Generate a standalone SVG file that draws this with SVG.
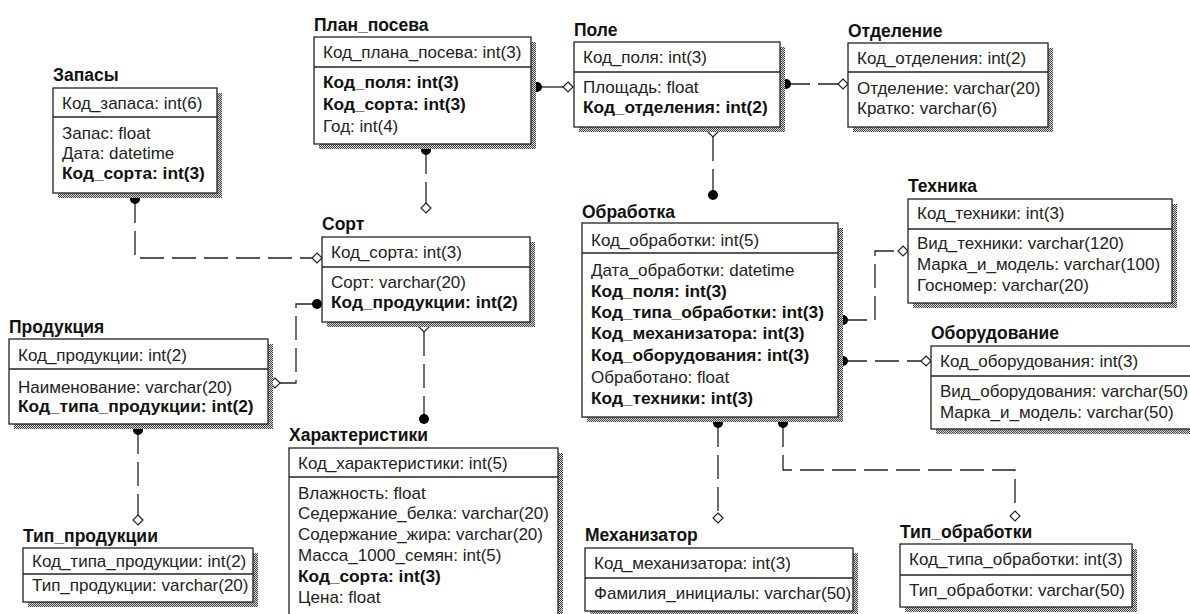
<svg xmlns="http://www.w3.org/2000/svg" xmlns:xlink="http://www.w3.org/1999/xlink" width="1190" height="614" viewBox="0 0 1190 614">
<defs>
<pattern id="chk" width="2" height="2" patternUnits="userSpaceOnUse"><rect width="2" height="2" fill="#d8d8d8"/><rect width="1" height="1" fill="#444"/><rect x="1" y="1" width="1" height="1" fill="#444"/></pattern>
<path id="dm" d="M0,-5 L5,0 L0,5 L-5,0Z" class="dia"/>
<circle id="dt" r="5" class="dot"/>
</defs>
<style>
.bx{fill:#fff;stroke:#222;stroke-width:1.3}
.sh{fill:url(#chk)}
.dv{stroke:#222;stroke-width:1.3}
text{font-family:"Liberation Sans",Arial,sans-serif;font-size:17px;fill:#222}
.b{font-weight:bold;fill:#111;font-size:17.3px}
.ti{font-weight:bold;font-size:17.5px;fill:#111}
.ln{stroke:#222;fill:none;stroke-width:1.3;stroke-dasharray:24 8}
.sl{stroke:#222;fill:none;stroke-width:1.3}
.dot{fill:#000}
.dia{fill:#fff;stroke:#222;stroke-width:1.2}
</style>
<rect width="1190" height="614" fill="#fff"/>

<g id="connectors">
<path class="ln" d="M135,199 V258 H312"/>
<path class="sl" d="M537,87 H563"/>
<path class="ln" d="M426,150 V203"/>
<path class="ln" d="M786,84 H838"/>
<path class="ln" d="M713,137 V195"/>
<path class="ln" d="M316,304 H296 V383 H280"/>
<path class="ln" d="M424,332 V419"/>
<path class="ln" d="M138,430 V515"/>
<path class="ln" d="M843,320 H875 V251 H898"/>
<path class="ln" d="M843,361 H921"/>
<path class="ln" d="M718,423 V513"/>
<path class="ln" d="M783,423 V470 H1015 V511"/>
<use href="#dt" x="135" y="199"/><use href="#dm" x="317" y="258"/>
<use href="#dt" x="537" y="87"/><use href="#dm" x="568" y="87"/>
<use href="#dt" x="426" y="150"/><use href="#dm" x="426" y="208"/>
<use href="#dt" x="786" y="84"/><use href="#dm" x="843" y="84"/>
<use href="#dm" x="713" y="132"/><use href="#dt" x="713" y="195"/>
<use href="#dt" x="317" y="304"/><use href="#dm" x="275" y="383"/>
<use href="#dm" x="424" y="327"/><use href="#dt" x="424" y="419"/>
<use href="#dt" x="138" y="430"/><use href="#dm" x="138" y="520"/>
<use href="#dt" x="843" y="320"/><use href="#dm" x="903" y="251"/>
<use href="#dt" x="843" y="361"/><use href="#dm" x="926" y="361"/>
<use href="#dt" x="718" y="423"/><use href="#dm" x="718" y="518"/>
<use href="#dt" x="783" y="423"/><use href="#dm" x="1015" y="516"/>
</g>

<g id="zapasy">
<text class="ti" x="53" y="81">Запасы</text>
<rect class="sh" x="58" y="93" width="164" height="105"/>
<rect class="bx" x="53" y="88" width="164" height="105"/>
<line class="dv" x1="53" y1="117" x2="217" y2="117"/>
<text x="62" y="109">Код_запаса: int(6)</text>
<text x="62" y="139">Запас: float</text>
<text x="62" y="159">Дата: datetime</text>
<text class="b" x="62" y="179">Код_сорта: int(3)</text>
</g>

<g id="plan_poseva">
<text class="ti" x="314" y="31">План_посева</text>
<rect class="sh" x="319" y="42" width="217" height="107"/>
<rect class="bx" x="314" y="37" width="217" height="107"/>
<line class="dv" x1="314" y1="67" x2="531" y2="67"/>
<text x="323" y="58">Код_плана_посева: int(3)</text>
<text class="b" x="323" y="88">Код_поля: int(3)</text>
<text class="b" x="323" y="110">Код_сорта: int(3)</text>
<text x="323" y="132">Год: int(4)</text>
</g>

<g id="pole">
<text class="ti" x="574" y="36">Поле</text>
<rect class="sh" x="579" y="47" width="206" height="85"/>
<rect class="bx" x="574" y="42" width="206" height="85"/>
<line class="dv" x1="574" y1="72" x2="780" y2="72"/>
<text x="583" y="63">Код_поля: int(3)</text>
<text x="583" y="93">Площадь: float</text>
<text class="b" x="583" y="113">Код_отделения: int(2)</text>
</g>

<g id="otdelenie">
<text class="ti" x="848" y="37">Отделение</text>
<rect class="sh" x="853" y="48" width="200" height="84"/>
<rect class="bx" x="848" y="43" width="200" height="84"/>
<line class="dv" x1="848" y1="72" x2="1048" y2="72"/>
<text x="857" y="64">Код_отделения: int(2)</text>
<text x="857" y="94">Отделение: varchar(20)</text>
<text x="857" y="114">Кратко: varchar(6)</text>
</g>

<g id="tehnika">
<text class="ti" x="908" y="192">Техника</text>
<rect class="sh" x="913" y="204" width="264" height="104"/>
<rect class="bx" x="908" y="199" width="264" height="104"/>
<line class="dv" x1="908" y1="229" x2="1172" y2="229"/>
<text x="917" y="219">Код_техники: int(3)</text>
<text x="917" y="249">Вид_техники: varchar(120)</text>
<text x="917" y="270">Марка_и_модель: varchar(100)</text>
<text x="917" y="291">Госномер: varchar(20)</text>
</g>

<g id="oborudovanie">
<text class="ti" x="931" y="339">Оборудование</text>
<rect class="sh" x="936" y="351" width="270" height="83"/>
<rect class="bx" x="931" y="346" width="270" height="83"/>
<line class="dv" x1="931" y1="376" x2="1201" y2="376"/>
<text x="940" y="367">Код_оборудования: int(3)</text>
<text x="940" y="397">Вид_оборудования: varchar(50)</text>
<text x="940" y="418">Марка_и_модель: varchar(50)</text>
</g>

<g id="obrabotka">
<text class="ti" x="582" y="218">Обработка</text>
<rect class="sh" x="587" y="228" width="256" height="194"/>
<rect class="bx" x="582" y="223" width="256" height="194"/>
<line class="dv" x1="582" y1="253" x2="838" y2="253"/>
<text x="591" y="246">Код_обработки: int(5)</text>
<text x="591" y="276">Дата_обработки: datetime</text>
<text class="b" x="591" y="297">Код_поля: int(3)</text>
<text class="b" x="591" y="318">Код_типа_обработки: int(3)</text>
<text class="b" x="591" y="339">Код_механизатора: int(3)</text>
<text class="b" x="591" y="361">Код_оборудования: int(3)</text>
<text x="591" y="383">Обработано: float</text>
<text class="b" x="591" y="404">Код_техники: int(3)</text>
</g>

<g id="mehanizator">
<text class="ti" x="585" y="541">Механизатор</text>
<rect class="sh" x="590" y="553" width="268" height="63"/>
<rect class="bx" x="585" y="548" width="268" height="63"/>
<line class="dv" x1="585" y1="578" x2="853" y2="578"/>
<text x="594" y="569">Код_механизатора: int(3)</text>
<text x="594" y="599">Фамилия_инициалы: varchar(50)</text>
</g>

<g id="tip_obrabotki">
<text class="ti" x="900" y="538">Тип_обработки</text>
<rect class="sh" x="905" y="549" width="232" height="63"/>
<rect class="bx" x="900" y="544" width="232" height="63"/>
<line class="dv" x1="900" y1="575" x2="1132" y2="575"/>
<text x="909" y="565">Код_типа_обработки: int(3)</text>
<text x="909" y="596">Тип_обработки: varchar(50)</text>
</g>

<g id="sort">
<text class="ti" x="322" y="230">Сорт</text>
<rect class="sh" x="327" y="242" width="208" height="85"/>
<rect class="bx" x="322" y="237" width="208" height="85"/>
<line class="dv" x1="322" y1="267" x2="530" y2="267"/>
<text x="331" y="258">Код_сорта: int(3)</text>
<text x="331" y="288">Сорт: varchar(20)</text>
<text class="b" x="331" y="308">Код_продукции: int(2)</text>
</g>

<g id="harakteristiki">
<text class="ti" x="289" y="441">Характеристики</text>
<rect class="sh" x="294" y="453" width="269" height="175"/>
<rect class="bx" x="289" y="448" width="269" height="175"/>
<line class="dv" x1="289" y1="477" x2="558" y2="477"/>
<text x="298" y="469">Код_характеристики: int(5)</text>
<text x="298" y="499">Влажность: float</text>
<text x="298" y="519">Седержание_белка: varchar(20)</text>
<text x="298" y="540">Содержание_жира: varchar(20)</text>
<text x="298" y="561">Масса_1000_семян: int(5)</text>
<text class="b" x="298" y="582">Код_сорта: int(3)</text>
<text x="298" y="603">Цена: float</text>
</g>

<g id="produkciya">
<text class="ti" x="9" y="333">Продукция</text>
<rect class="sh" x="14" y="344" width="259" height="85"/>
<rect class="bx" x="9" y="339" width="259" height="85"/>
<line class="dv" x1="9" y1="369" x2="268" y2="369"/>
<text x="18" y="361">Код_продукции: int(2)</text>
<text x="18" y="393">Наименование: varchar(20)</text>
<text class="b" x="18" y="412">Код_типа_продукции: int(2)</text>
</g>

<g id="tip_produkcii">
<text class="ti" x="23" y="542">Тип_продукции</text>
<rect class="sh" x="28" y="553" width="230" height="54"/>
<rect class="bx" x="23" y="548" width="230" height="54"/>
<line class="dv" x1="23" y1="574" x2="253" y2="574"/>
<text x="32" y="567">Код_типа_продукции: int(2)</text>
<text x="32" y="591">Тип_продукции: varchar(20)</text>
</g>
</svg>
